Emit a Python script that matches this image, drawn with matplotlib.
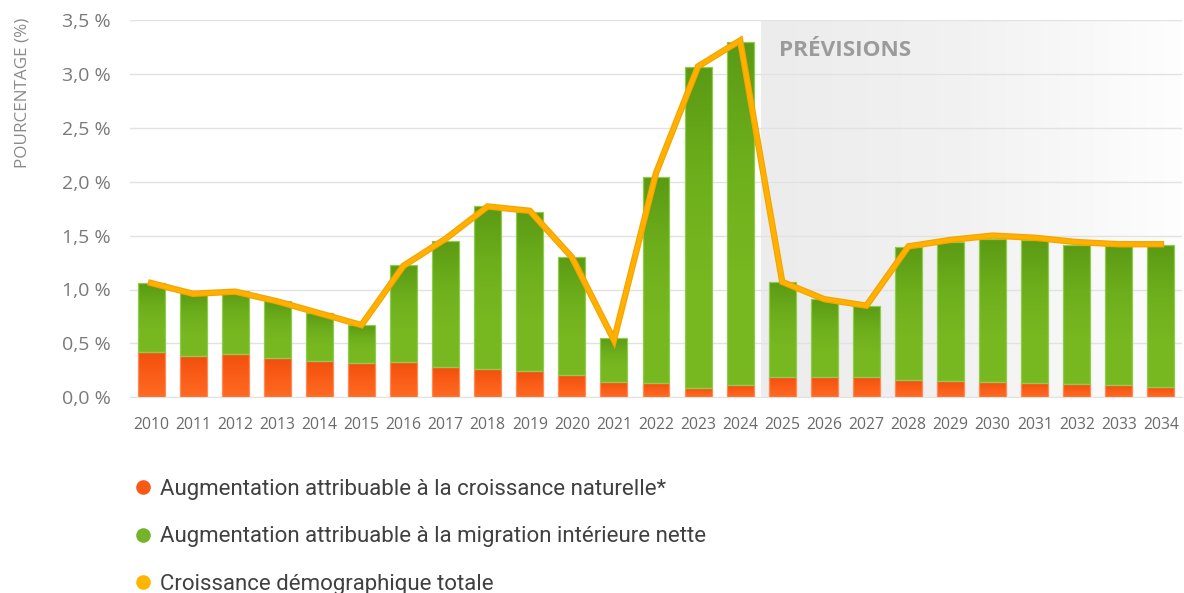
import numpy as np
import matplotlib
matplotlib.use("Agg")
import matplotlib.pyplot as plt
from matplotlib.colors import LinearSegmentedColormap
from matplotlib.lines import Line2D
from matplotlib.ticker import FuncFormatter, MultipleLocator

years = [str(y) for y in range(2010, 2035)]

# part of growth from natural increase (%)
natural = [0.42, 0.38, 0.40, 0.36, 0.34, 0.32, 0.33, 0.28, 0.26, 0.24, 0.21, 0.14,
           0.13, 0.09, 0.11, 0.19, 0.19, 0.19, 0.16, 0.15, 0.14, 0.13, 0.12, 0.11, 0.10]
# part from net interprovincial migration (%)
migration = [0.64, 0.59, 0.59, 0.53, 0.44, 0.35, 0.90, 1.17, 1.51, 1.48, 1.09, 0.41,
             1.91, 2.97, 3.19, 0.88, 0.72, 0.66, 1.23, 1.29, 1.33, 1.33, 1.29, 1.29, 1.31]
# total population growth (%)
total = [1.06, 0.96, 0.98, 0.89, 0.78, 0.67, 1.22, 1.47, 1.77, 1.73, 1.30, 0.53,
         2.08, 3.07, 3.31, 1.07, 0.91, 0.85, 1.40, 1.46, 1.50, 1.48, 1.44, 1.42, 1.42]

forecast_from = "2025"

legend_labels = [
    "Augmentation attribuable à la croissance naturelle*",
    "Augmentation attribuable à la migration intérieure nette",
    "Croissance démographique totale",
]

ORANGE = "#f85a16"
GREEN = "#6cab1c"
LINE = "#ffb000"

green_cmap = LinearSegmentedColormap.from_list("g", ["#5b9a14", "#6dae1c", "#77b821", "#78b922"])
orange_cmap = LinearSegmentedColormap.from_list("o", ["#f04f0c", "#fa5d18", "#ff6a22"])


def gradient_bars(ax, bars, cmap):
    # paint a vertical gradient inside each bar, dark at the top
    grad = np.linspace(0, 1, 128).reshape(-1, 1)
    for rect in bars:
        x0, y0 = rect.get_x(), rect.get_y()
        w, h = rect.get_width(), rect.get_height()
        im = ax.imshow(grad, cmap=cmap, extent=[x0, x0 + w, y0, y0 + h],
                       aspect="auto", origin="upper", zorder=2.1)
        im.set_clip_path(rect)


fig = plt.figure(figsize=(11.84, 5.93), dpi=100)
ax = fig.add_axes([130 / 1184, 1 - 397.3 / 593, 1052 / 1184, 377.3 / 593])

x = np.arange(len(years))
start = years.index(forecast_from) - 0.5

# forecast zone: light grey fading to white on the right
fade = np.linspace(0, 1, 256).reshape(1, -1)
ax.imshow(fade, cmap=LinearSegmentedColormap.from_list(
    "fade", ["#ececec", "#f2f2f2", "#fefefe"]),
    extent=[start, len(years) - 0.5, 0, 3.5], aspect="auto", zorder=0)
ax.text(start + 0.43, 3.22, "PRÉVISIONS", fontsize=16.2, fontweight="bold",
        color="#9b9b9b", family="Open Sans", va="center", ha="left", zorder=1)

b1 = ax.bar(x, natural, width=0.64, color=ORANGE, edgecolor="#ff8a55", linewidth=0.9, zorder=2)
b2 = ax.bar(x, migration, width=0.64, bottom=natural, color=GREEN, edgecolor="#8fcb4c",
            linewidth=0.9, zorder=2)
gradient_bars(ax, b1, orange_cmap)
gradient_bars(ax, b2, green_cmap)
for rect in list(b1) + list(b2):
    rect.set_zorder(2.2)
    rect.set_facecolor("none")

ax.plot(x, total, color="#f5a300", linewidth=4.6, solid_joinstyle="miter", zorder=3)
ax.plot(x, total, color=LINE, linewidth=3.0, solid_joinstyle="miter", zorder=3)

ax.set_xlim(-0.5, len(years) - 0.5)
ax.set_ylim(0, 3.5)
ax.set_xticks(x)
ax.set_xticklabels(years)
ax.yaxis.set_major_locator(MultipleLocator(0.5))
ax.yaxis.set_major_formatter(FuncFormatter(lambda v, _: f"{v:.1f} %".replace(".", ",")))

ax.grid(axis="y", color="#e2e2e2", linewidth=1.0, zorder=0.5)
ax.set_axisbelow(True)
for side in ["top", "right", "left"]:
    ax.spines[side].set_visible(False)
ax.spines["bottom"].set_color("#e2e2e2")
ax.tick_params(axis="both", length=0)
ax.tick_params(axis="y", pad=14, labelsize=14, labelcolor="#7a7a7a")
ax.tick_params(axis="x", pad=14, labelsize=11.3, labelcolor="#6a6a6a")
for lab in ax.get_xticklabels() + ax.get_yticklabels():
    lab.set_family("Open Sans")

fig.text(23 / 1184, 1 - 93 / 593, "POURCENTAGE (%)", rotation=90, fontsize=12.3,
         color="#8a8a8a", family="Open Sans", ha="center", va="center")

handles = [Line2D([], [], marker="o", linestyle="none", markersize=9.5, color=c)
           for c in (ORANGE, "#74b42a", "#ffb400")]
fig.legend(handles, legend_labels, loc="upper left", bbox_to_anchor=(121 / 1184, 1 - 468 / 593),
           frameon=False, prop={"family": "Roboto", "size": 16}, labelcolor="#404040",
           handletextpad=0.25, handlelength=1.0, labelspacing=1.18, borderpad=0)

fig.savefig("out.png", dpi=100)
